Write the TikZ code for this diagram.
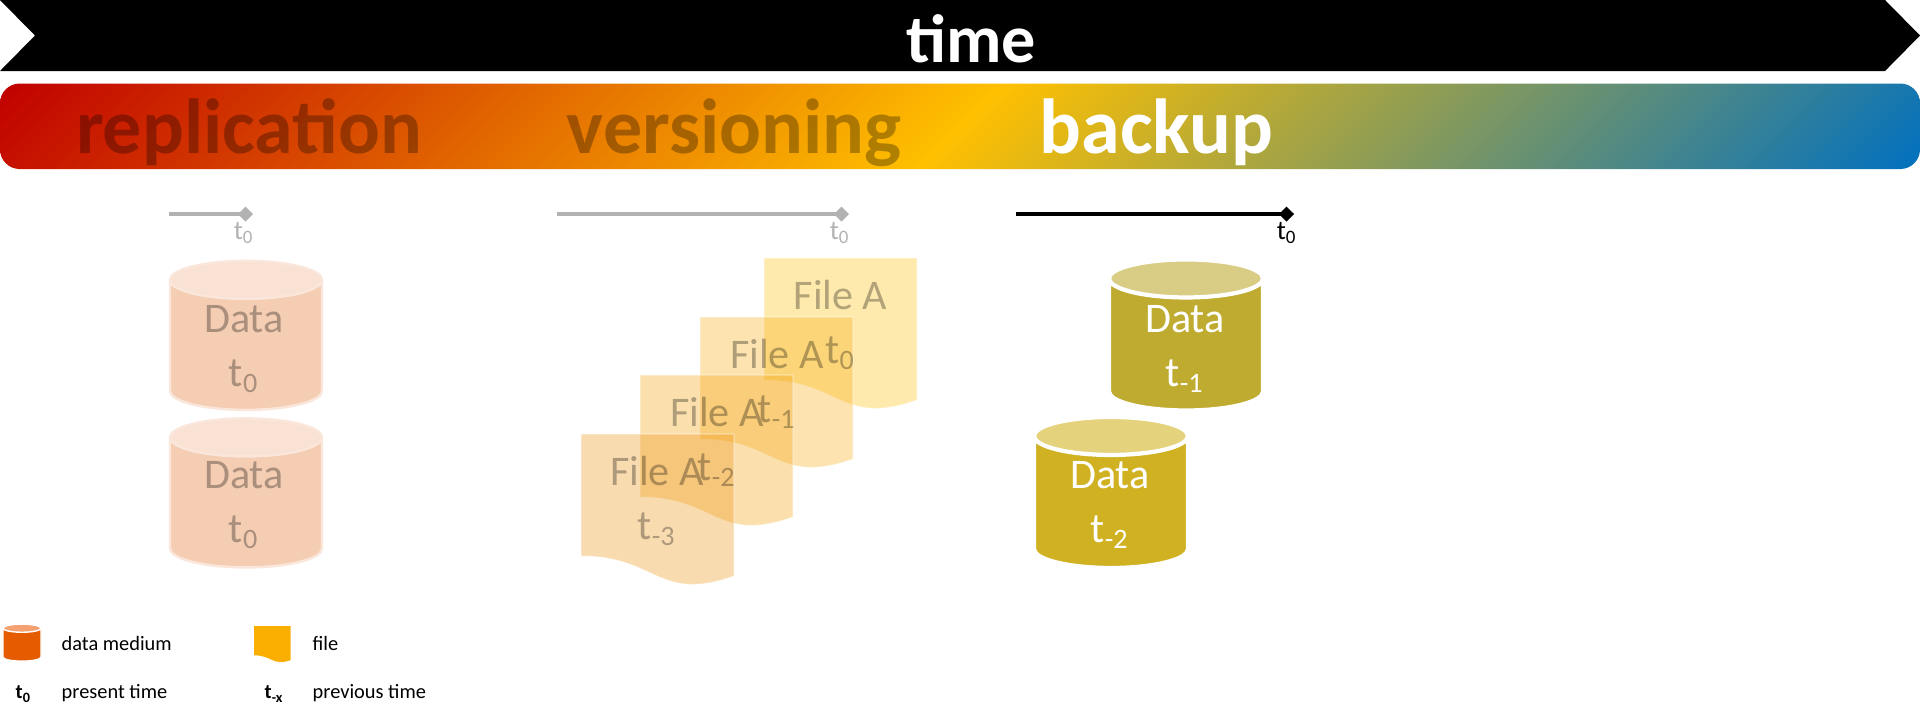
\documentclass[tikz,border=0pt]{standalone}
\usepackage{fontspec}
\setmainfont{Carlito}
\usetikzlibrary{
    positioning,
    arrows.meta,
    shapes.geometric
}
\definecolor{bar-red}{HTML}{C00000}
\definecolor{bar-yellow}{HTML}{FFC000}
\definecolor{bar-blue}{HTML}{0070C0}
\pgfdeclarehorizontalshading{barfill}{14.18cm}{
    color(0cm)=(bar-red);
    color(7.09cm)=(bar-yellow);
    color(14.18cm)=(bar-blue)
}

\begin{document}
\begin{tikzpicture}[
    y=-1cm,
    title/.style={
    	inner sep=0pt, font=\bfseries\fontsize{22.2}{26}\selectfont
    }, faded/.style={
    	text=black, text opacity=.3
    }, label/.style={
    	inner sep=0pt, align=center, font=\fontsize{12}{15.4}\selectfont
    }, small/.style={
    	inner sep=0pt, anchor=west, font=\fontsize{5.8}{7}\selectfont
    }, tick/.style={
    	inner sep=0pt, font=\fontsize{7.7}{9}\selectfont
    }, tline/.style={
    	-{Diamond[length=1.5mm,width=1.5mm]},
    	line width=1pt
    }, drum/.style={
    	cylinder, shape border rotate=90, aspect=.5, cylinder uses custom fill,
    	text width=.76cm, minimum width=1.54cm, minimum height=1.51cm, inner sep=0pt, outer sep=0pt
    }, sheet/.style={
    	draw=white, draw opacity=.4, line width=.3pt, fill opacity=.33
    }]
    \definecolor{my-line}{HTML}{B2B2B2}
    \definecolor{my-rep}{HTML}{F4CDB3}
    \definecolor{my-rep2}{HTML}{F9E1D3}
    \definecolor{my-rep3}{HTML}{FAE6DA}
    \definecolor{my-back1}{HTML}{BFAB30}
    \definecolor{my-back1b}{HTML}{D9CC85}
    \definecolor{my-back2}{HTML}{D0B122}
    \definecolor{my-back2b}{HTML}{E5D27C}
    \definecolor{my-med}{HTML}{E55C00}
    \definecolor{my-med2}{HTML}{F4A071}
    \definecolor{my-fileD}{HTML}{FFBF0A}
    \definecolor{my-fileC}{HTML}{F6AA0D}
    \definecolor{my-fileB}{HTML}{F3A10A}
    \definecolor{my-fileA}{HTML}{ED9210}
    \definecolor{my-icon}{HTML}{FAAE00}

    \useasboundingbox (0,0) rectangle (19.2,7.03);

    %%% time arrow
    \fill[black] (0,0) -- (18.85,0) -- (19.2,.355) -- (18.85,.71) -- (0,.71) -- (.35,.355) -- cycle;
    \node[title, text=white, font=\bfseries\fontsize{19.4}{23}\selectfont] (time) at (9.71,.385) {time};

    %%% gradient bar
    \begin{scope}
    	\clip[rounded corners=14\pgflinewidth] (0,.835) rectangle (19.2,1.69);
    	\node[inner sep=0pt, rotate=-45] (barfill) at (9.6,1.2625) {\pgfuseshading{barfill}};
    \end{scope}
    \node[title, faded, anchor=base] (replication) at (2.49,1.53) {replication};
    \node[title, faded, anchor=base] (versioning) at (7.34,1.53) {versioning};
    \node[title, text=white, anchor=base] (backup) at (11.565,1.53) {backup};

    %%% timelines
    \coordinate (line1-s) at (1.69,2.14);
    \coordinate (line1-e) at (2.53,2.14);
    \coordinate (line2-s) at (5.57,2.14);
    \coordinate (line2-e) at (8.49,2.14);
    \coordinate (line3-s) at (10.16,2.14);
    \coordinate (line3-e) at (12.94,2.14);
    \draw[tline, my-line] (line1-s) -- (line1-e);
    \draw[tline, my-line] (line2-s) -- (line2-e);
    \draw[tline, black] (line3-s) -- (line3-e);
    \node[tick, text=my-line] (t1) at (2.44,2.33) {t\textsubscript{0}};
    \node[tick, text=my-line] (t2) at (8.40,2.33) {t\textsubscript{0}};
    \node[tick, text=black] (t3) at (12.87,2.33) {t\textsubscript{0}};

    %%% replication
    \node[drum, draw=my-rep3, line width=.7pt, minimum width=1.52cm, minimum height=1.49cm, cylinder body fill=my-rep, cylinder end fill=my-rep2] (rep1) at (2.46,3.455) {};
    \node[drum, draw=my-rep3, line width=.7pt, minimum width=1.52cm, minimum height=1.49cm, cylinder body fill=my-rep, cylinder end fill=my-rep2] (rep2) at (2.46,5.03) {};
    \node[label, faded] (rep1-text) at (2.44,3.49) {Data\\t\textsubscript{0}};
    \node[label, faded] (rep2-text) at (2.44,5.05) {Data\\t\textsubscript{0}};

    %%% versioning
    \path[sheet, fill=my-fileD, shift={(7.64,2.58)}] (0,0) -- (1.53,0) -- (1.53,1.42) .. controls (.765,1.69) and (.765,1.22) .. (0,1.22) -- cycle;
    \path[sheet, fill=my-fileC, shift={(7.00,3.17)}] (0,0) -- (1.53,0) -- (1.53,1.42) .. controls (.765,1.69) and (.765,1.22) .. (0,1.22) -- cycle;
    \path[sheet, fill=my-fileB, shift={(6.40,3.75)}] (0,0) -- (1.53,0) -- (1.53,1.42) .. controls (.765,1.69) and (.765,1.22) .. (0,1.22) -- cycle;
    \path[sheet, fill=my-fileA, shift={(5.81,4.34)}] (0,0) -- (1.53,0) -- (1.53,1.42) .. controls (.765,1.69) and (.765,1.22) .. (0,1.22) -- cycle;
    \node[label, faded] (file-d) at (8.405,3.25) {File A\\t\textsubscript{0}};
    \node[label, faded] (file-c) at (7.77,3.84) {File A\\t\textsubscript{-1}};
    \node[label, faded] (file-b) at (7.17,4.42) {File A\\t\textsubscript{-2}};
    \node[label, faded] (file-a) at (6.57,5.01) {File A\\t\textsubscript{-3}};

    %%% backup
    \node[drum, draw=white, line width=1.2pt, cylinder body fill=my-back1, cylinder end fill=my-back1b] (back1) at (11.86,3.455) {};
    \node[drum, draw=white, line width=1.2pt, cylinder body fill=my-back2, cylinder end fill=my-back2b] (back2) at (11.11,5.03) {};
    \node[label, text=white] (back1-text) at (11.85,3.49) {Data\\t\textsubscript{-1}};
    \node[label, text=white] (back2-text) at (11.10,5.05) {Data\\t\textsubscript{-2}};

    %%% legend
    \node[drum, draw=white, line width=.4pt, aspect=.27, text width=.3cm, minimum width=.38cm, minimum height=.37cm, cylinder body fill=my-med, cylinder end fill=my-med2] (icon-med) at (.22,6.45) {};
    \node[small] (lab-med) at (.61,6.43) {data medium};
    \fill[my-icon, shift={(2.54,6.26)}, scale=.24] (0,0) -- (1.53,0) -- (1.53,1.42) .. controls (.765,1.69) and (.765,1.22) .. (0,1.22) -- cycle;
    \node[small] (lab-file) at (3.12,6.43) {file};
    \node[small, font=\bfseries\fontsize{5.8}{7}\selectfont] (lab-t0) at (.15,6.94) {t\textsubscript{0}};
    \node[small] (lab-now) at (.61,6.93) {present time};
    \node[small, font=\bfseries\fontsize{5.8}{7}\selectfont] (lab-tx) at (2.64,6.94) {t\textsubscript{-x}};
    \node[small] (lab-prev) at (3.12,6.93) {previous time};

\end{tikzpicture}
\end{document}
